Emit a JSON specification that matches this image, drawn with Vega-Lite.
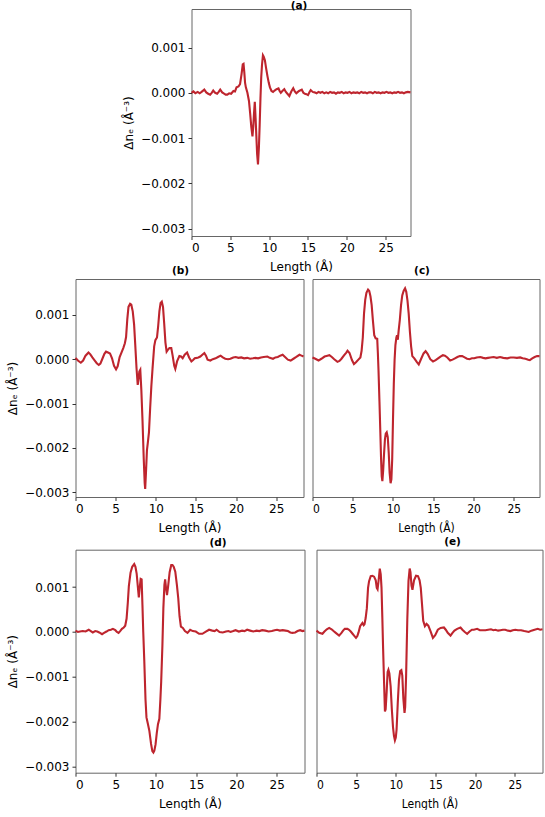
{
"$schema": "https://vega.github.io/schema/vega-lite/v6.json",
"padding": {"left": 5.5, "top": 0, "right": 0, "bottom": 0},
"autosize": {"type": "pad"},
"spacing": -8,
"config": {
  "view": {"stroke": "#666666", "strokeWidth": 1},
  "axis": {"domain": false, "grid": false, "tickColor": "#333333", "tickSize": 3.5, "labelFont": "DejaVu Sans", "labelFontSize": 12, "labelColor": "#000000", "labelPadding": 3, "titleFont": "DejaVu Sans", "titleFontSize": 12, "titleFontWeight": "normal", "titleColor": "#000000", "titlePadding": 5},
  "axisX": {"titlePadding": 8},
  "title": {"font": "DejaVu Sans", "fontSize": 10.5, "fontWeight": "bold", "color": "#000000"},
  "line": {"color": "#be252e", "strokeWidth": 2.1}
},
"datasets": {
"a": [
{"x":0,"y":0.0},{"x":0.25,"y":0.00003},{"x":0.5,"y":-0.00001},{"x":0.8,"y":0.00002},{"x":1.05,"y":-0.00001},{"x":1.3,"y":0.00002},{"x":1.65,"y":0.00007},{"x":1.9,"y":0.00001},{"x":2.15,"y":-0.00002},{"x":2.4,"y":-0.00004},{"x":2.6,"y":0.0},{"x":2.8,"y":0.00005},{"x":3.05,"y":0.0},{"x":3.3,"y":-0.00002},{"x":3.5,"y":0.00002},{"x":3.7,"y":0.00007},{"x":3.95,"y":0.00001},{"x":4.2,"y":-0.00002},{"x":4.4,"y":-0.00004},{"x":4.6,"y":-0.00004},{"x":4.85,"y":-0.00001},{"x":5.1,"y":-0.00002},{"x":5.4,"y":0.00004},{"x":5.6,"y":0.00003},{"x":5.8,"y":0.00012},{"x":6.05,"y":0.00014},{"x":6.25,"y":0.00019},{"x":6.45,"y":0.00042},{"x":6.6,"y":0.00063},{"x":6.7,"y":0.00064},{"x":6.8,"y":0.00045},{"x":6.9,"y":0.00022},{"x":7.0,"y":0.00012},{"x":7.2,"y":0.0},{"x":7.4,"y":-0.00018},{"x":7.55,"y":-0.00045},{"x":7.7,"y":-0.00075},{"x":7.85,"y":-0.00096},{"x":7.95,"y":-0.00075},{"x":8.05,"y":-0.00045},{"x":8.15,"y":-0.0002},{"x":8.25,"y":-0.00055},{"x":8.35,"y":-0.00095},{"x":8.45,"y":-0.00135},{"x":8.56,"y":-0.00158},{"x":8.68,"y":-0.0012},{"x":8.78,"y":-0.0007},{"x":8.88,"y":-0.00012},{"x":8.98,"y":0.00035},{"x":9.08,"y":0.00062},{"x":9.2,"y":0.00083},{"x":9.3,"y":0.0008},{"x":9.45,"y":0.00072},{"x":9.6,"y":0.00055},{"x":9.78,"y":0.00037},{"x":9.95,"y":0.00022},{"x":10.1,"y":0.00012},{"x":10.3,"y":0.00004},{"x":10.5,"y":0.00002},{"x":10.7,"y":0.00005},{"x":10.95,"y":0.00008},{"x":11.2,"y":0.0001},{"x":11.35,"y":0.00004},{"x":11.5,"y":0.0},{"x":11.7,"y":0.00004},{"x":11.95,"y":0.00008},{"x":12.15,"y":0.00002},{"x":12.35,"y":-0.00002},{"x":12.6,"y":-0.00007},{"x":12.85,"y":0.00003},{"x":13.1,"y":0.0001},{"x":13.3,"y":0.00003},{"x":13.5,"y":-0.00001},{"x":13.7,"y":0.00002},{"x":13.85,"y":0.00004},{"x":14.2,"y":0.00007},{"x":14.4,"y":0.0},{"x":14.6,"y":-0.00002},{"x":14.8,"y":-0.00003},{"x":15.0,"y":-0.00005},{"x":15.2,"y":0.00002},{"x":15.35,"y":0.00006},{"x":15.6,"y":0.00002},{"x":15.85,"y":0.00001},{"x":16.1,"y":-0.00001},{"x":16.35,"y":0.00002},{"x":16.6,"y":0.0},{"x":16.85,"y":0.00002},{"x":17.1,"y":-0.00001},{"x":17.35,"y":0.00001},{"x":17.6,"y":-0.00001},{"x":17.85,"y":0.00002},{"x":18.1,"y":0.0},{"x":18.35,"y":0.00001},{"x":18.6,"y":-0.00002},{"x":18.85,"y":0.00001},{"x":19.1,"y":0.0},{"x":19.35,"y":0.00002},{"x":19.6,"y":-0.00001},{"x":19.85,"y":0.00001},{"x":20.1,"y":0.0},{"x":20.35,"y":0.00002},{"x":20.6,"y":-0.00001},{"x":20.85,"y":0.00001},{"x":21.1,"y":0.0},{"x":21.35,"y":0.00001},{"x":21.6,"y":-0.00001},{"x":21.85,"y":0.00002},{"x":22.1,"y":0.0},{"x":22.35,"y":0.00001},{"x":22.6,"y":-0.00001},{"x":22.85,"y":0.00001},{"x":23.1,"y":0.00001},{"x":23.35,"y":-0.00001},{"x":23.6,"y":0.00002},{"x":23.85,"y":0.0},{"x":24.1,"y":0.00001},{"x":24.35,"y":-0.00001},{"x":24.6,"y":0.00001},{"x":24.85,"y":0.0},{"x":25.1,"y":0.00002},{"x":25.35,"y":0.0},{"x":25.6,"y":0.00001},{"x":25.85,"y":-0.00001},{"x":26.1,"y":0.00001},{"x":26.35,"y":0.0},{"x":26.6,"y":0.00002},{"x":26.85,"y":0.0},{"x":27.1,"y":0.00001},{"x":27.35,"y":-0.00001},{"x":27.6,"y":0.00001},{"x":27.85,"y":0.00002},{"x":28.2,"y":0.00001}
],
"b": [
{"x":0,"y":0.00003},{"x":0.3,"y":-0.00003},{"x":0.66,"y":-0.00008},{"x":0.95,"y":-0.00003},{"x":1.25,"y":0.00008},{"x":1.62,"y":0.00015},{"x":1.85,"y":0.00011},{"x":2.1,"y":0.00004},{"x":2.4,"y":-0.00003},{"x":2.65,"y":-0.00009},{"x":2.9,"y":-0.00013},{"x":3.1,"y":-0.0001},{"x":3.35,"y":0.00001},{"x":3.6,"y":0.00012},{"x":3.8,"y":0.00017},{"x":4.05,"y":0.00015},{"x":4.3,"y":0.00013},{"x":4.55,"y":0.00002},{"x":4.8,"y":-0.00015},{"x":5.05,"y":-0.00023},{"x":5.25,"y":-0.00016},{"x":5.5,"y":0.00005},{"x":5.75,"y":0.00016},{"x":5.95,"y":0.00025},{"x":6.15,"y":0.00036},{"x":6.3,"y":0.0005},{"x":6.45,"y":0.0009},{"x":6.6,"y":0.00118},{"x":6.8,"y":0.00125},{"x":6.95,"y":0.00123},{"x":7.13,"y":0.00108},{"x":7.3,"y":0.00078},{"x":7.45,"y":0.0003},{"x":7.6,"y":-0.0002},{"x":7.75,"y":-0.00058},{"x":7.85,"y":-0.00045},{"x":7.95,"y":-0.00028},{"x":8.07,"y":-0.00024},{"x":8.2,"y":-0.00069},{"x":8.35,"y":-0.0014},{"x":8.5,"y":-0.00225},{"x":8.62,"y":-0.0028},{"x":8.68,"y":-0.00293},{"x":8.78,"y":-0.00255},{"x":8.9,"y":-0.00205},{"x":9.0,"y":-0.0019},{"x":9.15,"y":-0.00165},{"x":9.3,"y":-0.0011},{"x":9.45,"y":-0.0006},{"x":9.6,"y":-0.0002},{"x":9.8,"y":0.00029},{"x":9.95,"y":0.00043},{"x":10.15,"y":0.00049},{"x":10.3,"y":0.00075},{"x":10.45,"y":0.00108},{"x":10.6,"y":0.00127},{"x":10.75,"y":0.0013},{"x":10.9,"y":0.00118},{"x":11.05,"y":0.0008},{"x":11.2,"y":0.00038},{"x":11.35,"y":0.00017},{"x":11.5,"y":0.00021},{"x":11.7,"y":0.00025},{"x":11.93,"y":0.00025},{"x":12.1,"y":0.00008},{"x":12.3,"y":-0.00015},{"x":12.43,"y":-0.00022},{"x":12.65,"y":-0.00005},{"x":12.94,"y":0.00007},{"x":13.15,"y":0.00006},{"x":13.35,"y":0.00002},{"x":13.6,"y":0.0001},{"x":13.9,"y":0.00015},{"x":14.15,"y":0.00004},{"x":14.44,"y":-0.00005},{"x":14.65,"y":-0.00002},{"x":14.86,"y":0.00002},{"x":15.1,"y":0.00003},{"x":15.3,"y":0.00004},{"x":15.55,"y":0.00006},{"x":15.8,"y":0.0001},{"x":16.05,"y":0.00014},{"x":16.25,"y":0.00008},{"x":16.45,"y":-0.00001},{"x":16.8,"y":-0.00003},{"x":17.1,"y":0.0},{"x":17.45,"y":0.00002},{"x":17.75,"y":0.00005},{"x":18.07,"y":0.00008},{"x":18.35,"y":0.00004},{"x":18.65,"y":0.00001},{"x":19.0,"y":0.0},{"x":19.3,"y":0.00001},{"x":19.65,"y":0.00004},{"x":19.95,"y":0.00005},{"x":20.3,"y":0.00003},{"x":20.65,"y":0.00004},{"x":21.0,"y":0.00002},{"x":21.4,"y":0.00003},{"x":21.75,"y":0.00001},{"x":22.1,"y":0.00002},{"x":22.4,"y":0.00003},{"x":22.75,"y":0.00002},{"x":23.1,"y":0.00004},{"x":23.45,"y":0.00005},{"x":23.9,"y":0.00006},{"x":24.2,"y":0.00003},{"x":24.6,"y":0.00001},{"x":24.9,"y":0.00004},{"x":25.2,"y":0.00005},{"x":25.5,"y":0.00008},{"x":25.8,"y":0.0001},{"x":26.1,"y":0.00005},{"x":26.45,"y":-0.00001},{"x":26.8,"y":-0.00003},{"x":27.15,"y":0.00001},{"x":27.5,"y":0.00005},{"x":27.9,"y":0.0001},{"x":28.15,"y":0.00008},{"x":28.4,"y":0.00006}
],
"c": [
{"x":0,"y":0.0},{"x":0.35,"y":-0.00003},{"x":0.75,"y":-0.00007},{"x":1.1,"y":-0.00003},{"x":1.5,"y":0.00002},{"x":1.85,"y":0.00004},{"x":2.1,"y":0.00005},{"x":2.4,"y":0.00001},{"x":2.7,"y":-0.00004},{"x":3.1,"y":-0.0001},{"x":3.35,"y":-0.00008},{"x":3.6,"y":-0.00003},{"x":3.94,"y":0.00005},{"x":4.2,"y":0.00011},{"x":4.35,"y":0.00015},{"x":4.6,"y":0.0001},{"x":4.9,"y":-0.00006},{"x":5.15,"y":-0.00015},{"x":5.4,"y":-0.00011},{"x":5.7,"y":-0.00005},{"x":5.95,"y":0.0},{"x":6.1,"y":0.00015},{"x":6.25,"y":0.00045},{"x":6.4,"y":0.00099},{"x":6.55,"y":0.0013},{"x":6.7,"y":0.00146},{"x":6.9,"y":0.00153},{"x":7.05,"y":0.0015},{"x":7.2,"y":0.00138},{"x":7.35,"y":0.00118},{"x":7.5,"y":0.00084},{"x":7.67,"y":0.0005},{"x":7.84,"y":0.00043},{"x":8.04,"y":0.00042},{"x":8.12,"y":0.0001},{"x":8.2,"y":-0.00029},{"x":8.32,"y":-0.001},{"x":8.42,"y":-0.00164},{"x":8.52,"y":-0.0023},{"x":8.6,"y":-0.00268},{"x":8.68,"y":-0.00279},{"x":8.78,"y":-0.00255},{"x":8.88,"y":-0.0022},{"x":9.0,"y":-0.00185},{"x":9.1,"y":-0.00172},{"x":9.22,"y":-0.00169},{"x":9.35,"y":-0.0018},{"x":9.47,"y":-0.00215},{"x":9.58,"y":-0.0026},{"x":9.7,"y":-0.00284},{"x":9.8,"y":-0.00275},{"x":9.9,"y":-0.0023},{"x":10.0,"y":-0.0014},{"x":10.1,"y":-0.0006},{"x":10.2,"y":-0.00005},{"x":10.3,"y":0.00028},{"x":10.42,"y":0.00045},{"x":10.5,"y":0.0005},{"x":10.6,"y":0.0004},{"x":10.7,"y":0.0006},{"x":10.85,"y":0.00085},{"x":11.0,"y":0.00118},{"x":11.15,"y":0.0014},{"x":11.32,"y":0.0015},{"x":11.5,"y":0.00156},{"x":11.65,"y":0.00148},{"x":11.8,"y":0.00128},{"x":11.95,"y":0.00099},{"x":12.1,"y":0.00058},{"x":12.25,"y":0.00025},{"x":12.4,"y":0.00003},{"x":12.65,"y":-0.00002},{"x":12.95,"y":-0.0001},{"x":13.2,"y":-0.00016},{"x":13.5,"y":-0.00003},{"x":13.8,"y":0.00009},{"x":14.05,"y":0.00014},{"x":14.3,"y":0.00008},{"x":14.63,"y":-0.00004},{"x":14.97,"y":-0.00009},{"x":15.3,"y":-0.00006},{"x":15.6,"y":-0.00002},{"x":15.9,"y":0.00002},{"x":16.2,"y":0.00005},{"x":16.45,"y":0.00004},{"x":16.75,"y":0.0},{"x":17.1,"y":-0.00007},{"x":17.4,"y":-0.00005},{"x":17.7,"y":-0.00002},{"x":18.0,"y":0.00001},{"x":18.3,"y":0.00003},{"x":18.6,"y":0.00003},{"x":18.9,"y":0.0},{"x":19.2,"y":-0.00003},{"x":19.5,"y":-0.00004},{"x":19.8,"y":-0.00002},{"x":20.1,"y":-0.00002},{"x":20.4,"y":0.0},{"x":20.85,"y":0.00001},{"x":21.2,"y":-0.00001},{"x":21.5,"y":-0.00002},{"x":21.8,"y":-0.00001},{"x":22.1,"y":0.0},{"x":22.5,"y":0.00001},{"x":22.9,"y":-0.00001},{"x":23.3,"y":0.00001},{"x":23.7,"y":-0.00001},{"x":24.2,"y":-0.00002},{"x":24.6,"y":0.0},{"x":25.0,"y":0.0},{"x":25.4,"y":-0.00001},{"x":25.8,"y":0.0},{"x":26.1,"y":-0.00002},{"x":26.45,"y":-0.00003},{"x":26.8,"y":-0.00005},{"x":27.0,"y":-0.00006},{"x":27.3,"y":-0.00002},{"x":27.6,"y":0.00001},{"x":27.9,"y":0.00003},{"x":28.2,"y":0.00003}
],
"d": [
{"x":0,"y":0.00003},{"x":0.3,"y":0.0},{"x":0.55,"y":0.00001},{"x":0.9,"y":0.00002},{"x":1.25,"y":0.00001},{"x":1.65,"y":0.00005},{"x":1.9,"y":0.00002},{"x":2.15,"y":-0.00001},{"x":2.45,"y":0.00002},{"x":2.7,"y":0.00001},{"x":2.95,"y":-0.00001},{"x":3.3,"y":-0.00005},{"x":3.55,"y":-0.00002},{"x":3.85,"y":0.00001},{"x":4.12,"y":0.00004},{"x":4.4,"y":0.00005},{"x":4.65,"y":0.00007},{"x":4.95,"y":0.00004},{"x":5.15,"y":0.0},{"x":5.35,"y":-0.00002},{"x":5.55,"y":0.00002},{"x":5.77,"y":0.00007},{"x":6.0,"y":0.0001},{"x":6.18,"y":0.00014},{"x":6.35,"y":0.0003},{"x":6.5,"y":0.00065},{"x":6.63,"y":0.00102},{"x":6.84,"y":0.00132},{"x":7.05,"y":0.00145},{"x":7.3,"y":0.00151},{"x":7.45,"y":0.00145},{"x":7.6,"y":0.0013},{"x":7.75,"y":0.001},{"x":7.87,"y":0.00077},{"x":7.98,"y":0.00098},{"x":8.1,"y":0.00118},{"x":8.22,"y":0.00117},{"x":8.32,"y":0.0006},{"x":8.42,"y":0.0},{"x":8.55,"y":-0.00065},{"x":8.7,"y":-0.0015},{"x":8.82,"y":-0.0019},{"x":8.98,"y":-0.00203},{"x":9.18,"y":-0.0022},{"x":9.39,"y":-0.00249},{"x":9.55,"y":-0.00265},{"x":9.68,"y":-0.00268},{"x":9.8,"y":-0.00264},{"x":9.95,"y":-0.0025},{"x":10.1,"y":-0.00225},{"x":10.25,"y":-0.00205},{"x":10.42,"y":-0.00193},{"x":10.55,"y":-0.0015},{"x":10.65,"y":-0.0011},{"x":10.8,"y":-0.0003},{"x":10.92,"y":0.00053},{"x":11.05,"y":0.00105},{"x":11.14,"y":0.00117},{"x":11.25,"y":0.00098},{"x":11.37,"y":0.00082},{"x":11.5,"y":0.001},{"x":11.7,"y":0.00133},{"x":11.9,"y":0.00149},{"x":12.05,"y":0.00149},{"x":12.2,"y":0.00145},{"x":12.4,"y":0.00134},{"x":12.6,"y":0.00105},{"x":12.77,"y":0.00075},{"x":12.93,"y":0.00035},{"x":13.1,"y":0.00012},{"x":13.34,"y":0.00009},{"x":13.6,"y":0.00002},{"x":13.92,"y":-0.00002},{"x":14.25,"y":0.00005},{"x":14.58,"y":0.00002},{"x":14.95,"y":0.00001},{"x":15.36,"y":-0.00004},{"x":15.77,"y":-0.00004},{"x":16.2,"y":0.00001},{"x":16.6,"y":0.00005},{"x":17.0,"y":0.00003},{"x":17.3,"y":0.00002},{"x":17.54,"y":0.00005},{"x":17.9,"y":0.0},{"x":18.3,"y":-0.00001},{"x":18.7,"y":0.00001},{"x":19.0,"y":0.00002},{"x":19.27,"y":0.0},{"x":19.6,"y":0.00002},{"x":19.9,"y":0.00004},{"x":20.3,"y":0.00001},{"x":20.7,"y":0.00003},{"x":21.0,"y":0.00002},{"x":21.33,"y":0.00005},{"x":21.7,"y":0.00003},{"x":22.1,"y":0.00001},{"x":22.5,"y":0.00003},{"x":22.85,"y":0.00002},{"x":23.2,"y":0.00004},{"x":23.6,"y":0.00003},{"x":24.0,"y":0.00001},{"x":24.4,"y":0.00002},{"x":24.75,"y":0.00004},{"x":25.04,"y":0.00005},{"x":25.4,"y":0.00003},{"x":25.75,"y":0.00004},{"x":26.1,"y":0.00003},{"x":26.4,"y":0.00002},{"x":26.7,"y":-0.00001},{"x":26.95,"y":-0.00002},{"x":27.3,"y":-0.00001},{"x":27.6,"y":0.00002},{"x":27.92,"y":0.00004},{"x":28.2,"y":0.00002},{"x":28.46,"y":0.00003}
],
"e": [
{"x":0,"y":0.0},{"x":0.34,"y":-0.00005},{"x":0.75,"y":-0.00007},{"x":1.0,"y":-0.00002},{"x":1.3,"y":0.00003},{"x":1.6,"y":0.00006},{"x":1.9,"y":0.00003},{"x":2.15,"y":-0.00001},{"x":2.43,"y":-0.00005},{"x":2.85,"y":-0.00011},{"x":3.15,"y":-0.00005},{"x":3.35,"y":0.0},{"x":3.57,"y":0.00004},{"x":3.9,"y":0.00004},{"x":4.1,"y":0.00002},{"x":4.32,"y":-0.00002},{"x":4.55,"y":-0.00007},{"x":4.74,"y":-0.00011},{"x":4.98,"y":-0.00016},{"x":5.15,"y":-0.00012},{"x":5.3,"y":-0.00004},{"x":5.5,"y":0.0001},{"x":5.79,"y":0.00017},{"x":5.95,"y":0.00012},{"x":6.05,"y":0.00014},{"x":6.2,"y":0.00028},{"x":6.35,"y":0.0005},{"x":6.5,"y":0.00095},{"x":6.63,"y":0.0011},{"x":6.84,"y":0.00121},{"x":7.05,"y":0.00122},{"x":7.26,"y":0.0012},{"x":7.47,"y":0.00112},{"x":7.6,"y":0.00095},{"x":7.7,"y":0.00092},{"x":7.84,"y":0.00113},{"x":7.98,"y":0.00138},{"x":8.1,"y":0.00125},{"x":8.2,"y":0.00095},{"x":8.3,"y":0.0003},{"x":8.4,"y":-0.0004},{"x":8.52,"y":-0.00115},{"x":8.63,"y":-0.0018},{"x":8.72,"y":-0.00175},{"x":8.85,"y":-0.00135},{"x":8.97,"y":-0.00092},{"x":9.07,"y":-0.00087},{"x":9.19,"y":-0.00095},{"x":9.35,"y":-0.00124},{"x":9.5,"y":-0.00175},{"x":9.65,"y":-0.00215},{"x":9.77,"y":-0.00234},{"x":9.89,"y":-0.00244},{"x":10.0,"y":-0.00238},{"x":10.1,"y":-0.0022},{"x":10.25,"y":-0.0016},{"x":10.4,"y":-0.0011},{"x":10.55,"y":-0.0009},{"x":10.7,"y":-0.00088},{"x":10.82,"y":-0.001},{"x":10.95,"y":-0.0015},{"x":11.1,"y":-0.00183},{"x":11.18,"y":-0.0017},{"x":11.3,"y":-0.001},{"x":11.45,"y":0.00024},{"x":11.6,"y":0.0011},{"x":11.75,"y":0.00138},{"x":11.85,"y":0.0013},{"x":11.98,"y":0.001},{"x":12.1,"y":0.00091},{"x":12.3,"y":0.00112},{"x":12.55,"y":0.00122},{"x":12.8,"y":0.00121},{"x":13.0,"y":0.00112},{"x":13.15,"y":0.00095},{"x":13.3,"y":0.0006},{"x":13.46,"y":0.00022},{"x":13.67,"y":0.0001},{"x":13.88,"y":0.00015},{"x":14.1,"y":0.00011},{"x":14.4,"y":-0.00002},{"x":14.68,"y":-0.00016},{"x":14.97,"y":-0.0001},{"x":15.3,"y":0.00002},{"x":15.65,"y":0.00006},{"x":16.07,"y":0.00007},{"x":16.3,"y":0.00002},{"x":16.55,"y":-0.00005},{"x":16.9,"y":-0.00011},{"x":17.15,"y":-0.00005},{"x":17.4,"y":0.0},{"x":17.74,"y":0.00004},{"x":18.16,"y":0.00007},{"x":18.4,"y":0.00002},{"x":18.7,"y":-0.00003},{"x":19.0,"y":-0.00007},{"x":19.3,"y":-0.00002},{"x":19.6,"y":0.00002},{"x":19.84,"y":0.00002},{"x":20.26,"y":0.00004},{"x":20.6,"y":0.00001},{"x":21.0,"y":0.00001},{"x":21.3,"y":0.00001},{"x":21.65,"y":0.00002},{"x":22.0,"y":0.00003},{"x":22.3,"y":0.00001},{"x":22.57,"y":0.00002},{"x":22.9,"y":0.0},{"x":23.2,"y":0.00001},{"x":23.5,"y":0.00002},{"x":23.8,"y":0.00002},{"x":24.15,"y":0.0},{"x":24.45,"y":-0.00001},{"x":24.75,"y":0.00001},{"x":25.08,"y":0.00002},{"x":25.4,"y":0.00001},{"x":25.8,"y":0.00001},{"x":26.2,"y":-0.00001},{"x":26.5,"y":-0.00002},{"x":26.76,"y":-0.00003},{"x":27.1,"y":0.0},{"x":27.5,"y":0.00002},{"x":27.9,"y":0.00004},{"x":28.2,"y":0.00002},{"x":28.5,"y":0.00003}
]
},
"vconcat": [
  {"hconcat": [
    {"width": 115.5, "height": 227, "data": {"values": []}, "mark": {"type": "point", "opacity": 0}, "view": {"stroke": null}},
    {"width": 219, "height": 227, "data": {"name": "a"},
     "title": {"text": "(a)", "offset": -2.2, "dx": -2},
     "mark": {"type": "line"},
     "encoding": {
       "x": {"field": "x", "type": "quantitative", "scale": {"domain": [0, 28.2], "nice": false}, "axis": {"values": [0,5,10,15,20,25], "title": "Length (Å)"}},
       "y": {"field": "y", "type": "quantitative", "scale": {"domain": [-0.00316, 0.00185], "nice": false}, "axis": {"values": [-0.003,-0.002,-0.001,0,0.001], "format": ".3f", "title": "Δnₑ (Å⁻³)"}}
     }}
  ], "spacing": 0, "bounds": "flush"},
  {"vconcat": [
    {"hconcat": [
      {"width": 228, "height": 218, "data": {"name": "b"},
       "title": {"text": "(b)", "offset": 3, "dx": -9},
       "mark": {"type": "line"},
       "encoding": {
         "x": {"field": "x", "type": "quantitative", "scale": {"domain": [0, 28.4], "nice": false}, "axis": {"values": [0,5,10,15,20,25], "title": "Length (Å)"}},
         "y": {"field": "y", "type": "quantitative", "scale": {"domain": [-0.00311, 0.00181], "nice": false}, "axis": {"values": [-0.003,-0.002,-0.001,0,0.001], "format": ".3f", "title": "Δnₑ (Å⁻³)"}}
       }},
      {"width": 227, "height": 218, "data": {"name": "c"},
       "title": {"text": "(c)", "offset": 3, "dx": -4},
       "mark": {"type": "line"},
       "encoding": {
         "x": {"field": "x", "type": "quantitative", "scale": {"domain": [0, 28.2], "nice": false}, "axis": {"values": [0,5,10,15,20,25], "title": "Length (Å)", "labelFont": "DejaVu Sans Condensed", "titleFont": "DejaVu Sans Condensed"}},
         "y": {"field": "y", "type": "quantitative", "scale": {"domain": [-0.00315, 0.00177], "nice": false}, "axis": null}
       }}
    ], "spacing": 9, "bounds": "flush"},
    {"hconcat": [
      {"width": 229, "height": 223, "data": {"name": "d"},
       "title": {"text": "(d)", "offset": 1.5, "dx": 28},
       "mark": {"type": "line"},
       "encoding": {
         "x": {"field": "x", "type": "quantitative", "scale": {"domain": [0, 28.46], "nice": false}, "axis": {"values": [0,5,10,15,20,25], "title": "Length (Å)"}},
         "y": {"field": "y", "type": "quantitative", "scale": {"domain": [-0.00313, 0.00183], "nice": false}, "axis": {"values": [-0.003,-0.002,-0.001,0,0.001], "format": ".3f", "title": "Δnₑ (Å⁻³)"}}
       }},
      {"width": 226, "height": 223, "data": {"name": "e"},
       "title": {"text": "(e)", "offset": 2.3, "dx": 23},
       "mark": {"type": "line"},
       "encoding": {
         "x": {"field": "x", "type": "quantitative", "scale": {"domain": [0, 28.5], "nice": false}, "axis": {"values": [0,5,10,15,20,25], "title": "Length (Å)", "labelFont": "DejaVu Sans Condensed", "titleFont": "DejaVu Sans Condensed"}},
         "y": {"field": "y", "type": "quantitative", "scale": {"domain": [-0.00316, 0.0018], "nice": false}, "axis": null}
       }}
    ], "spacing": 12, "bounds": "flush"}
  ], "spacing": 1.7}
]
}
